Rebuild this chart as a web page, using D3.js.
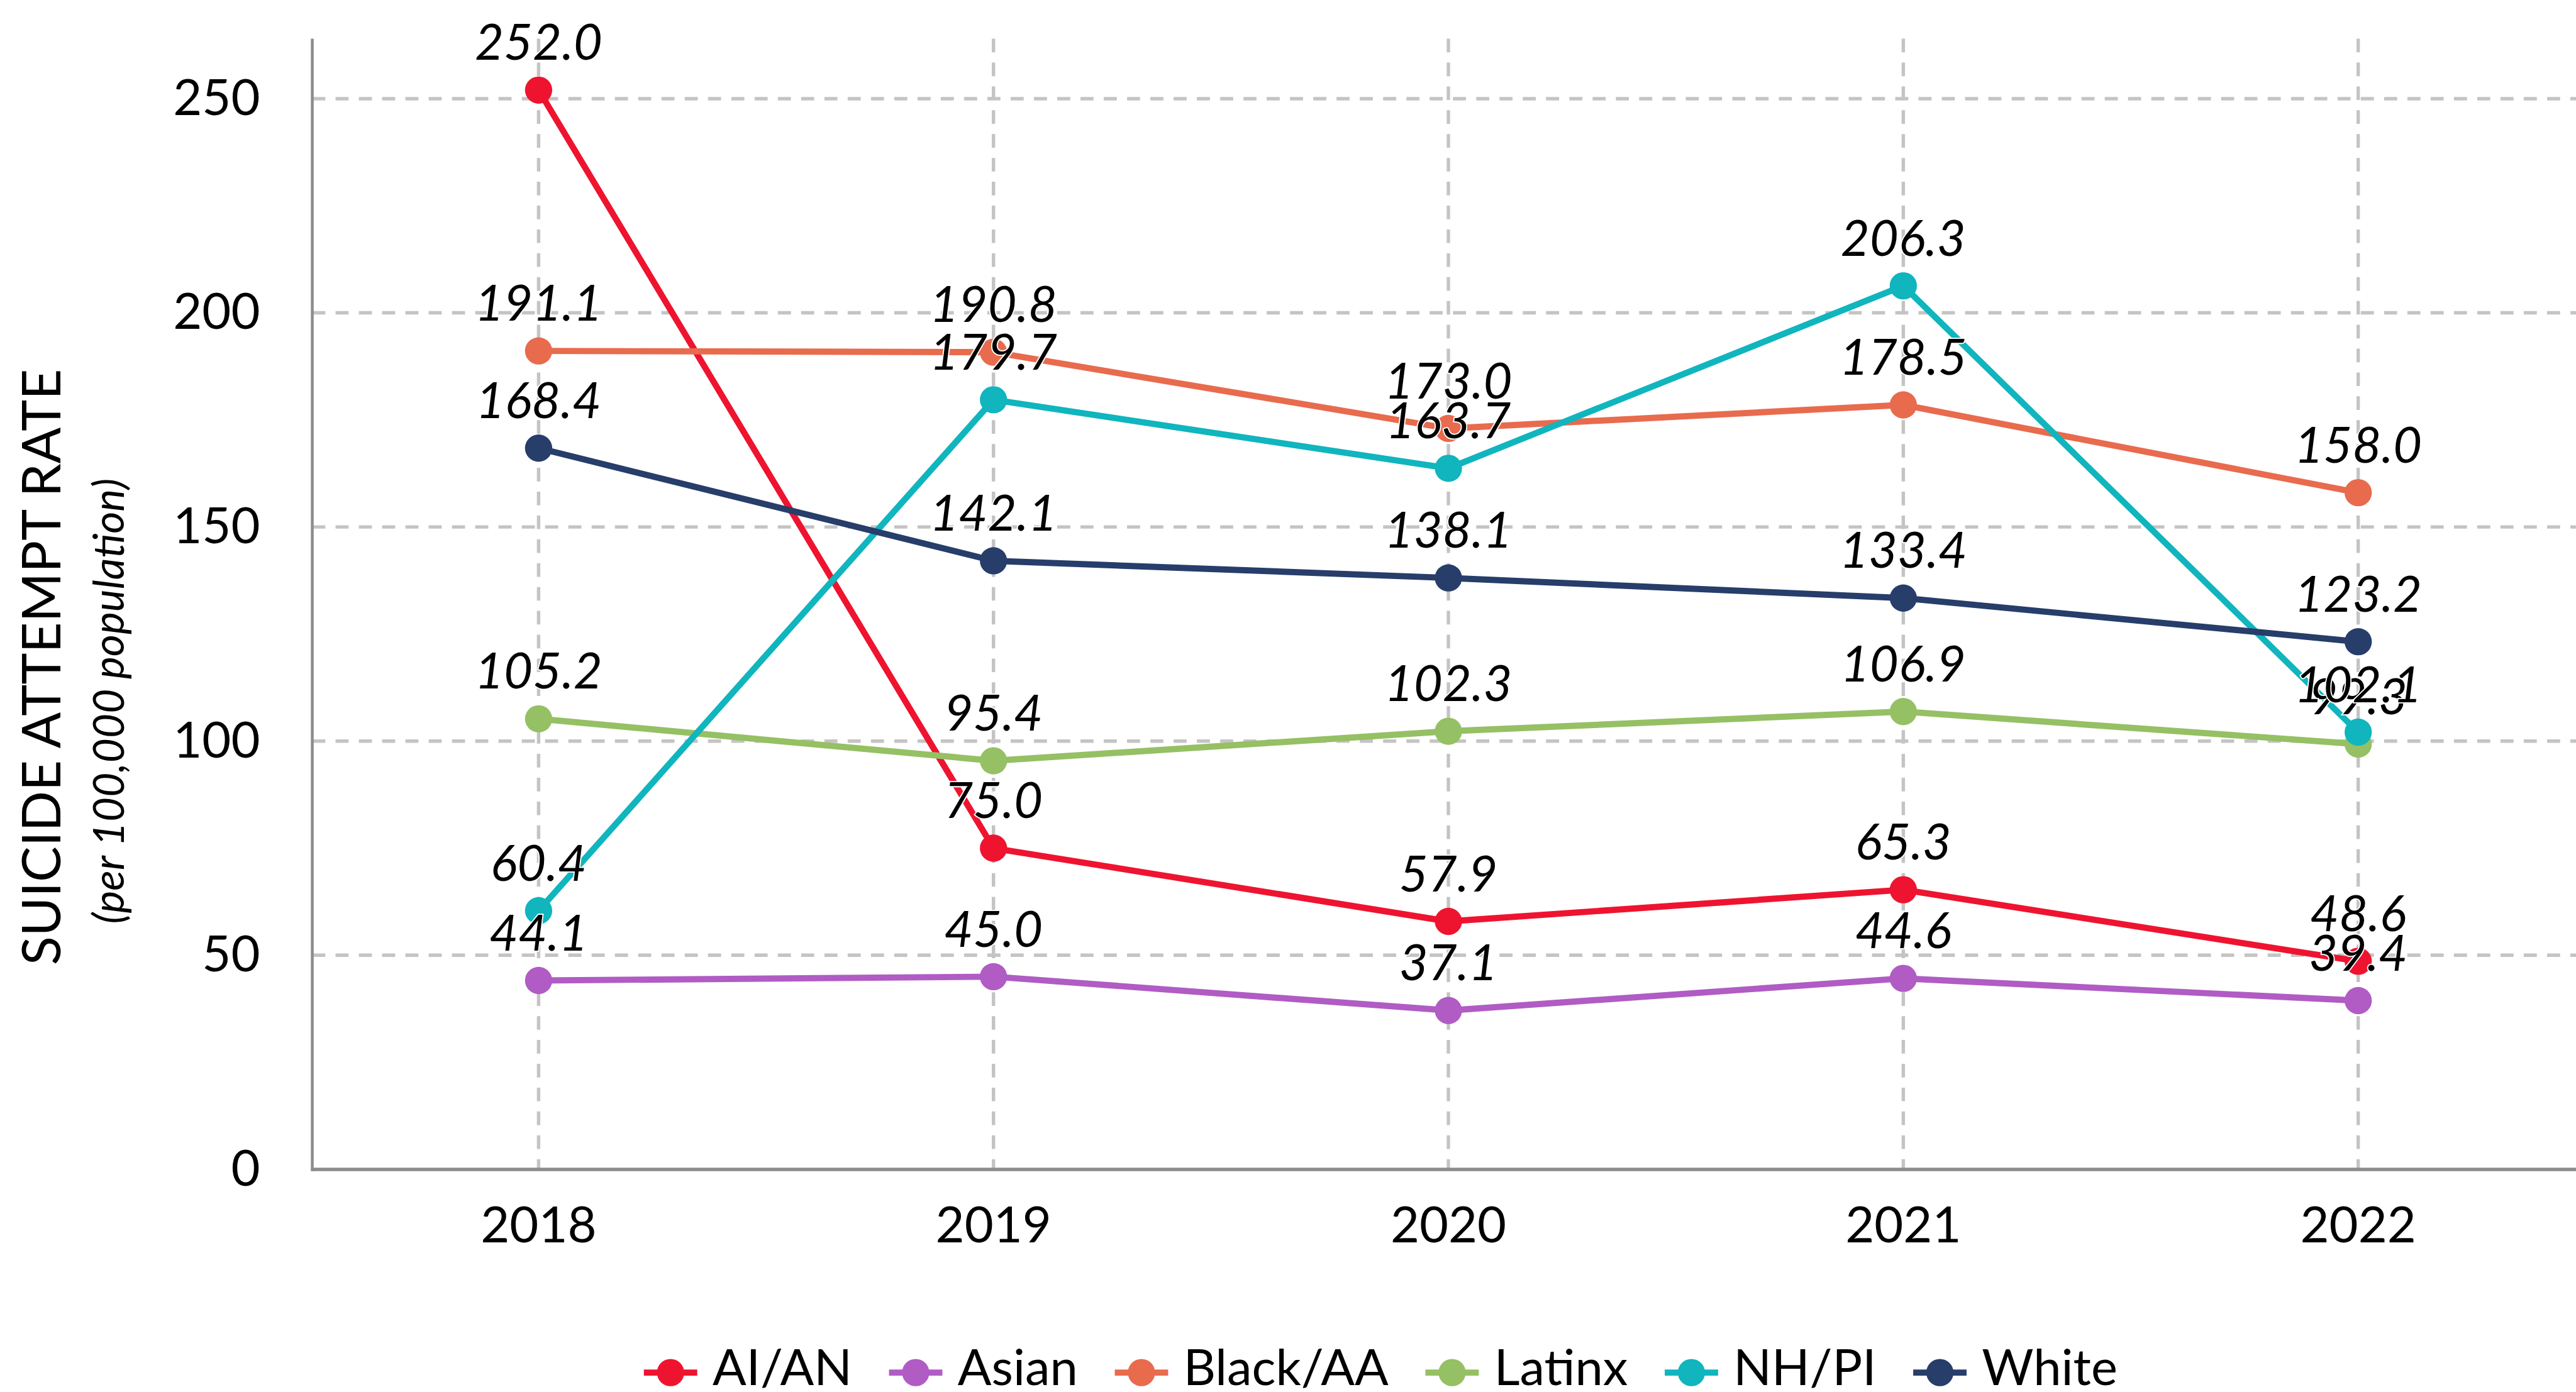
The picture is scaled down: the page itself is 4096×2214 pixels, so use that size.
<!DOCTYPE html>
<html lang="en">
<head>
    <meta charset="UTF-8">
    <title>Suicide attempt rate</title>
    <script src="https://d3js.org/d3.v7.min.js"></script>
    <style>
        body { margin: 0; background: #fff; }
        text { font-family: Lato, "Noto Sans", sans-serif; }
    </style>
</head>
<body>
    <div id="chart"></div>

    <script>
        // Data
        var years = ["2018", "2019", "2020", "2021", "2022"];
        var seriesNames = ["AI/AN", "Asian", "Black/AA", "Latinx", "NH/PI", "White"];
        var seriesColors = ["#ee1430", "#b05cc4", "#e86b4e", "#95c064", "#10b5be", "#273d6a"];
        var aian = [252.0, 75.0, 57.9, 65.3, 48.6];
        var asian = [44.1, 45.0, 37.1, 44.6, 39.4];
        var black = [191.1, 190.8, 173.0, 178.5, 158.0];
        var latinx = [105.2, 95.4, 102.3, 106.9, 99.3];
        var nhpi = [60.4, 179.7, 163.7, 206.3, 102.1];
        var white = [168.4, 142.1, 138.1, 133.4, 123.2];
        var yTicks = [0, 50, 100, 150, 200, 250];

        var seriesValues = [aian, asian, black, latinx, nhpi, white];
        var series = seriesNames.map(function(name, i) {
            return { name: name, color: seriesColors[i], values: seriesValues[i] };
        });

        // Drawn in the reference's own pixel size, scaled down by the viewBox
        var W = 4537, H = 2452;
        var svg = d3.select("#chart").append("svg")
            .attr("width", 4096)
            .attr("height", 2214)
            .attr("viewBox", "0 0 " + W + " " + H);

        var plotLeft = 550, plotBottom = 2060, plotTop = 68;

        var x = d3.scaleBand().domain(years).range([548, 4554]).padding(0);
        var y = d3.scaleLinear().domain([0, 264]).range([plotBottom, plotTop]);
        var cx = function(d) { return x(d) + x.bandwidth() / 2; };

        var grid = "#c4c4c4";
        var axisColor = "#8c8c8c";

        // Horizontal grid lines
        svg.append("g").selectAll("line")
            .data(yTicks.filter(function(t) { return t > 0; }))
            .enter().append("line")
            .attr("x1", plotLeft).attr("x2", W)
            .attr("y1", function(d) { return y(d); })
            .attr("y2", function(d) { return y(d); })
            .attr("stroke", grid).attr("stroke-width", 6)
            .attr("stroke-dasharray", "23 18");

        // Vertical grid lines
        svg.append("g").selectAll("line")
            .data(years)
            .enter().append("line")
            .attr("x1", cx).attr("x2", cx)
            .attr("y1", plotTop).attr("y2", plotBottom)
            .attr("stroke", grid).attr("stroke-width", 6)
            .attr("stroke-dasharray", "24 18");

        // Axes
        var yAxis = svg.append("g")
            .attr("transform", "translate(" + plotLeft + ",0)")
            .call(d3.axisLeft(y).tickValues(yTicks).tickSize(0).tickPadding(92));
        yAxis.select(".domain").remove();
        yAxis.selectAll("text")
            .style("font-size", "88px")
            .style("font-family", "Lato")
            .attr("fill", "#000");

        var xAxis = svg.append("g")
            .attr("transform", "translate(0," + plotBottom + ")")
            .call(d3.axisBottom(x).tickSize(0).tickPadding(66));
        xAxis.select(".domain").remove();
        xAxis.selectAll("text")
            .style("font-size", "88px")
            .style("font-family", "Lato")
            .attr("fill", "#000");

        svg.append("line")
            .attr("x1", plotLeft).attr("x2", plotLeft)
            .attr("y1", plotTop).attr("y2", plotBottom + 3)
            .attr("stroke", axisColor).attr("stroke-width", 5);
        svg.append("line")
            .attr("x1", plotLeft - 2).attr("x2", W)
            .attr("y1", plotBottom).attr("y2", plotBottom)
            .attr("stroke", axisColor).attr("stroke-width", 6);

        // Axis titles
        svg.append("text")
            .attr("transform", "translate(106,1175) rotate(-90)")
            .attr("text-anchor", "middle")
            .style("font-size", "94px")
            .text("SUICIDE ATTEMPT RATE");
        svg.append("text")
            .attr("transform", "translate(218,1235) rotate(-90)")
            .attr("text-anchor", "middle")
            .style("font-size", "75px")
            .style("font-style", "italic")
            .text("(per 100,000 population)");

        // Lines and markers
        var line = d3.line()
            .x(function(d, i) { return cx(years[i]); })
            .y(function(d) { return y(d); });

        series.forEach(function(s) {
            var g = svg.append("g");
            g.append("path")
                .attr("d", line(s.values))
                .attr("fill", "none")
                .attr("stroke", s.color)
                .attr("stroke-width", 11)
                .attr("stroke-linejoin", "round");
            g.selectAll("circle")
                .data(s.values)
                .enter().append("circle")
                .attr("cx", function(d, i) { return cx(years[i]); })
                .attr("cy", function(d) { return y(d); })
                .attr("r", 24)
                .attr("fill", s.color);
        });

        // Value labels, drawn over all the lines
        series.forEach(function(s) {
            svg.append("g").selectAll("text")
                .data(s.values)
                .enter().append("text")
                .attr("x", function(d, i) { return cx(years[i]); })
                .attr("y", function(d) { return y(d) - 53; })
                .attr("text-anchor", "middle")
                .style("font-size", "88px")
                .style("font-style", "italic")
                .attr("fill", "#000")
                .attr("stroke", "#fff")
                .attr("stroke-width", 4)
                .attr("paint-order", "stroke")
                .text(function(d) { return d.toFixed(1); });
        });

        // Legend
        var legend = svg.append("g");
        var lx = 1181, ly = 2418;
        series.forEach(function(s) {
            var item = legend.append("g");
            item.append("line")
                .attr("x1", lx - 47).attr("x2", lx + 47)
                .attr("y1", ly).attr("y2", ly)
                .attr("stroke", s.color).attr("stroke-width", 11);
            item.append("circle")
                .attr("cx", lx).attr("cy", ly).attr("r", 24)
                .attr("fill", s.color);
            var t = item.append("text")
                .attr("x", lx + 74)
                .attr("y", ly + 22)
                .style("font-size", "88px")
                .attr("fill", "#000")
                .text(s.name);
            lx = lx + 74 + t.node().getComputedTextLength() + 112;
        });
    </script>
</body>
</html>
